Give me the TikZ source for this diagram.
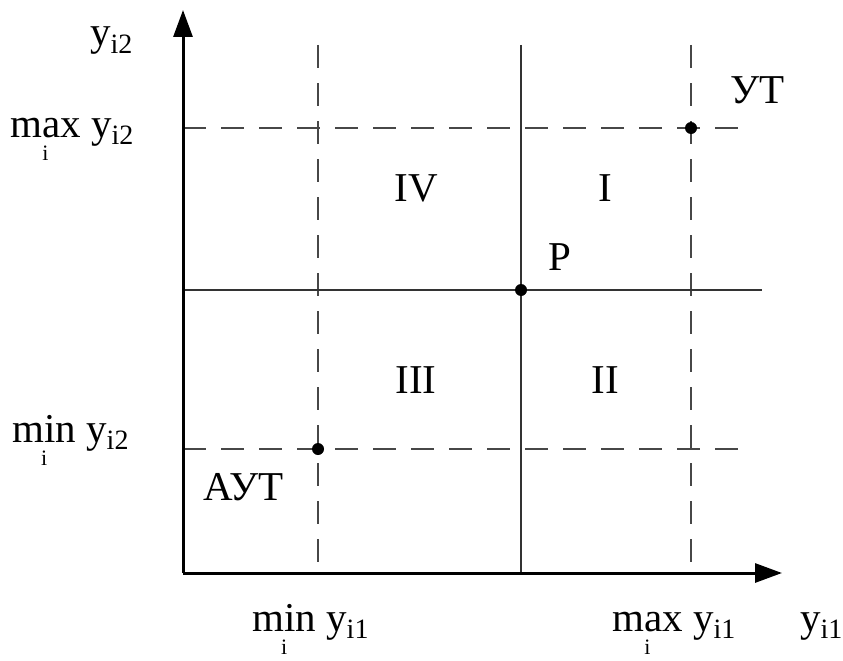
\documentclass[tikz,border=0pt]{standalone}
\usepackage{fontspec}
\setmainfont{Liberation Serif}
\usetikzlibrary{arrows.meta}
\newcommand\subtxt[1]{\raisebox{-7pt}{\fontsize{28}{28}\selectfont #1}}
\newcommand\undertxt[1]{\setbox0\hbox{#1}\rlap{\hbox to \wd0{\hss\raisebox{-23pt}{\fontsize{22}{22}\selectfont i}\hss}}\box0}
\begin{document}
\begin{tikzpicture}[x=1pt,y=-1pt,
  lbl/.style={inner sep=0pt,anchor=base west},
  axis/.style={line width=3pt,-{Triangle[length=27pt,width=19pt]}},
  gridsolid/.style={line width=1.8pt,draw=black!80},
  griddash/.style={line width=1.8pt,draw=black!72,dash pattern=on 23pt off 15pt},
  dot/.style={circle,fill=black,inner sep=0pt,minimum size=12pt},
  font=\fontsize{41}{45}\selectfont]
\useasboundingbox (0,0) rectangle (843,661);
% named coordinates
\coordinate (O) at (183,573);
\coordinate (ytip) at (183,10);
\coordinate (xtip) at (782,573);
\coordinate (v1t) at (318,45);  \coordinate (v1b) at (318,573);
\coordinate (v2t) at (521,45);  \coordinate (v2b) at (521,573);
\coordinate (v3t) at (691,45);  \coordinate (v3b) at (691,573);
\coordinate (h1l) at (183,128); \coordinate (h1r) at (750,128);
\coordinate (h2l) at (183,290); \coordinate (h2r) at (762,290);
\coordinate (h3l) at (183,449); \coordinate (h3r) at (750,449);
% grid lines
\draw[griddash] (v1t) -- (v1b);
\draw[gridsolid] (v2t) -- (v2b);
\draw[griddash] (v3t) -- (v3b);
\draw[griddash] (h1l) -- (h1r);
\draw[gridsolid] (h2l) -- (h2r);
\draw[griddash] (h3l) -- (h3r);
% axes
\draw[axis] (O) -- (ytip);
\draw[axis] (O) -- (xtip);
% points
\node[dot] (UT) at (691,128) {};
\node[dot] (P) at (521,290) {};
\node[dot] (AUT) at (318,449) {};
% axis labels
\node[lbl] (ly2) at (90,46) {y\subtxt{i2}};
\node[lbl] (lmax2) at (10,137) {\undertxt{max}\ y\subtxt{i2}};
\node[lbl] (lmin2) at (12,442) {\undertxt{min}\ y\subtxt{i2}};
\node[lbl] (lmin1) at (252,631) {\undertxt{min}\ y\subtxt{i1}};
\node[lbl] (lmax1) at (612,631) {\undertxt{max}\ y\subtxt{i1}};
\node[lbl] (ly1) at (800,631) {y\subtxt{i1}};
% region labels
\node (rIV) at (416,188) {IV};
\node (rI) at (605,188) {I};
\node (rIII) at (416,380) {III};
\node (rII) at (605,380) {II};
\node[lbl] (lP) at (548,270) {P};
\node[lbl] (lUT) at (730,103) {УТ};
\node[lbl] (lAUT) at (203,500) {АУТ};
\end{tikzpicture}
\end{document}
